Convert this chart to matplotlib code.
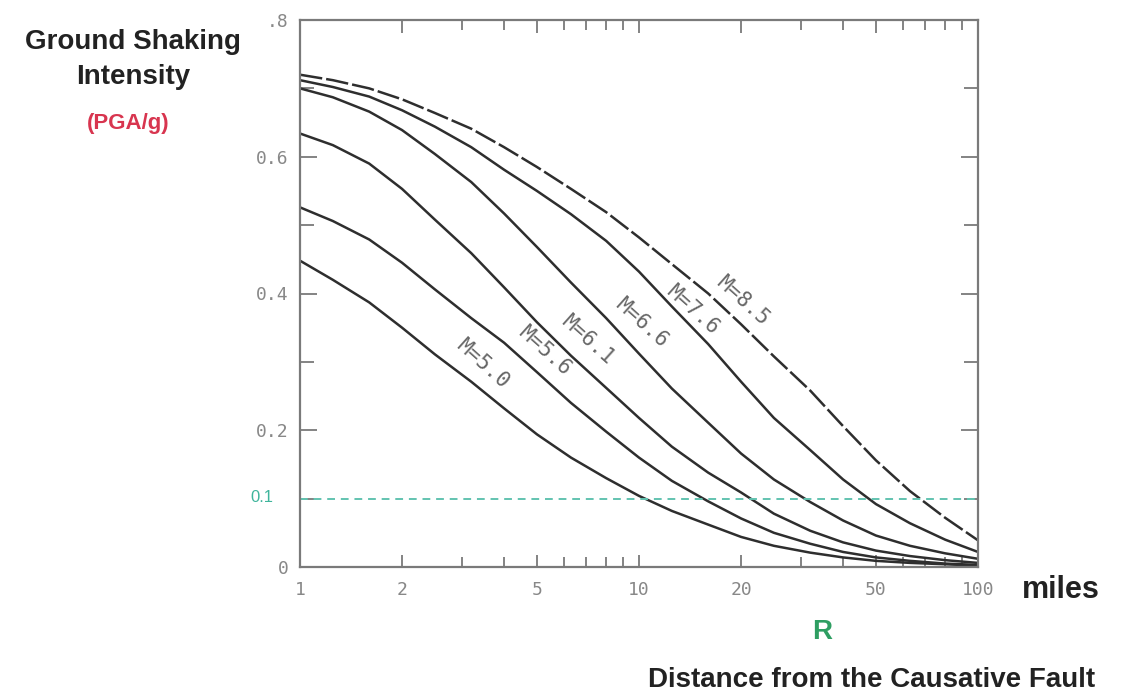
import matplotlib
matplotlib.use("Agg")
import matplotlib.pyplot as plt
from matplotlib.ticker import FixedLocator, NullFormatter

# ---- data ----
R = [1, 1.25, 1.6, 2, 2.5, 3.2, 4, 5, 6.3, 8, 10, 12.5, 16, 20, 25, 32, 40, 50, 63, 80, 100]
pga_M50 = [0.448, 0.420, 0.387, 0.350, 0.311, 0.271, 0.232, 0.194, 0.160, 0.130, 0.104, 0.082,
           0.062, 0.044, 0.031, 0.021, 0.014, 0.009, 0.006, 0.004, 0.002]
pga_M56 = [0.526, 0.506, 0.479, 0.445, 0.406, 0.364, 0.328, 0.285, 0.240, 0.198, 0.160, 0.126,
           0.096, 0.071, 0.050, 0.034, 0.022, 0.014, 0.009, 0.005, 0.003]
pga_M61 = [0.634, 0.617, 0.590, 0.553, 0.508, 0.459, 0.409, 0.358, 0.309, 0.262, 0.218, 0.176,
           0.138, 0.109, 0.078, 0.053, 0.036, 0.024, 0.016, 0.010, 0.006]
pga_M66 = [0.700, 0.687, 0.666, 0.639, 0.604, 0.563, 0.517, 0.468, 0.416, 0.364, 0.312, 0.261,
           0.211, 0.166, 0.128, 0.095, 0.068, 0.046, 0.031, 0.020, 0.012]
pga_M76 = [0.712, 0.702, 0.688, 0.668, 0.644, 0.614, 0.581, 0.550, 0.516, 0.477, 0.432, 0.381,
           0.326, 0.271, 0.218, 0.171, 0.128, 0.092, 0.064, 0.040, 0.022]
pga_M85 = [0.720, 0.712, 0.700, 0.684, 0.664, 0.641, 0.614, 0.585, 0.553, 0.519, 0.482, 0.443,
           0.400, 0.355, 0.308, 0.258, 0.206, 0.156, 0.111, 0.072, 0.039]

labels = ["M=5.0", "M=5.6", "M=6.1", "M=6.6", "M=7.6", "M=8.5"]
label_R = [3.45, 5.25, 7.05, 10.2, 14.4, 20.2]
label_v = [0.298, 0.316, 0.333, 0.358, 0.377, 0.389]

xticks = [1, 2, 5, 10, 20, 50, 100]
xticklabels = ["1", "2", "5", "10", "20", "50", "100"]
yticks = [0, 0.2, 0.4, 0.6, 0.8]
yticklabels = ["0", "0.2", "0.4", "0.6", ".8"]
threshold = 0.1

# ---- figure ----
fig = plt.figure(figsize=(11.34, 7.0), dpi=100)
ax = fig.add_axes([300 / 1134, 1 - 567 / 700, 678 / 1134, 547 / 700])
ax.set_xscale("log")
ax.set_xlim(1, 100)
ax.set_ylim(0, 0.8)

curve_col = "#2e2e2e"
for s in [pga_M50, pga_M56, pga_M61, pga_M66, pga_M76]:
    ax.plot(R, s, color=curve_col, lw=1.8, solid_joinstyle="round")
ax.plot(R, pga_M85, color=curve_col, lw=1.8, linestyle=(0, (9, 1.6)))

ax.axhline(threshold, color="#62c3b0", lw=1.4, linestyle=(0, (4, 3)))

for lab, lr, lv in zip(labels, label_R, label_v):
    ax.text(lr, lv, lab, rotation=-42, ha="center", va="center",
            family="DejaVu Sans Mono", fontsize=15, color="#666666",
            rotation_mode="anchor")

spine_col = "#7a7a7a"
for sp in ax.spines.values():
    sp.set_color(spine_col)
    sp.set_linewidth(1.6)

ax.xaxis.set_major_locator(FixedLocator(xticks))
ax.xaxis.set_minor_locator(FixedLocator([3, 4, 6, 7, 8, 9, 30, 40, 60, 70, 80, 90]))
ax.xaxis.set_minor_formatter(NullFormatter())
ax.set_xticklabels(xticklabels)
ax.yaxis.set_major_locator(FixedLocator(yticks))
ax.yaxis.set_minor_locator(FixedLocator([0.1, 0.3, 0.5, 0.7]))
ax.set_yticklabels(yticklabels)

ax.tick_params(which="both", direction="in", top=True, right=True, color=spine_col, width=1.3)
ax.tick_params(axis="x", which="major", length=9, pad=10)
ax.tick_params(axis="x", which="minor", length=7)
ax.tick_params(axis="y", which="major", length=12, pad=8)
ax.tick_params(axis="y", which="minor", length=10)
for t in ax.get_xticklabels() + ax.get_yticklabels():
    t.set_family("DejaVu Sans Mono")
    t.set_fontsize(13)
    t.set_color("#888888")

# threshold label
fig.text(262 / 1134, 1 - 497 / 700, "0.1", color="#3fb59c", fontsize=12,
         family="Liberation Sans", ha="center", va="center")

# axis titles
fig.text(133 / 1134, 1 - 42 / 700, "Ground Shaking", fontsize=20, fontweight="bold",
         family="Liberation Sans", color="#222222", ha="center", va="center")
fig.text(133 / 1134, 1 - 77 / 700, "Intensity", fontsize=20, fontweight="bold",
         family="Liberation Sans", color="#222222", ha="center", va="center")
fig.text(128 / 1134, 1 - 124 / 700, "(PGA/g)", fontsize=16, fontweight="bold",
         family="Liberation Sans", color="#d8354f", ha="center", va="center")

fig.text(1061 / 1134, 1 - 590 / 700, "miles", fontsize=22, fontweight="bold",
         family="Liberation Sans", color="#222222", ha="center", va="center")
fig.text(822 / 1134, 1 - 632 / 700, "R", fontsize=20, fontweight="bold",
         family="Liberation Sans", color="#2e9e62", ha="center", va="center")
fig.text(872 / 1134, 1 - 680 / 700, "Distance from the Causative Fault", fontsize=20,
         fontweight="bold", family="Liberation Sans", color="#222222",
         ha="center", va="center")

fig.savefig("out.png", dpi=100)
